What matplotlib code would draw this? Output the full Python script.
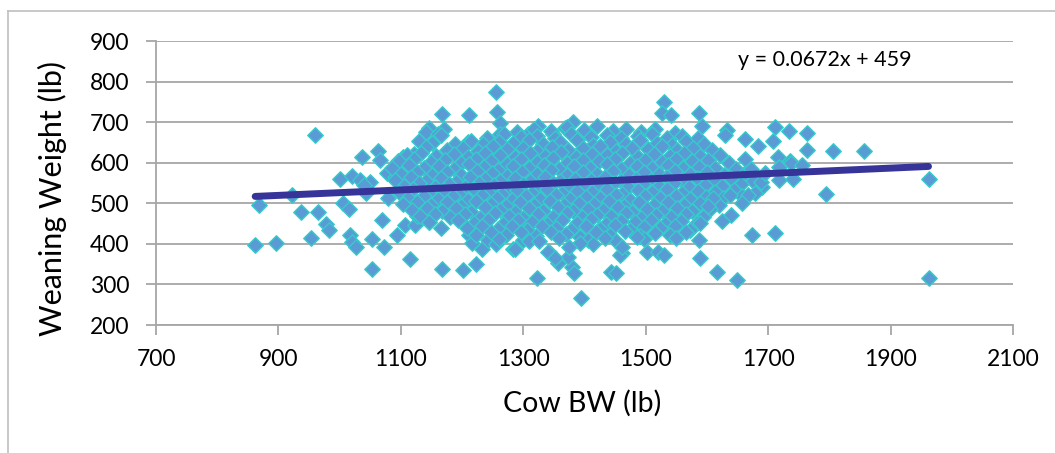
import numpy as np
import matplotlib
matplotlib.use("Agg")
import matplotlib.pyplot as plt
from matplotlib.lines import Line2D

plt.rcParams['font.family'] = ['Lato', 'DejaVu Sans']

# trendline as printed on the chart
slope = 0.0672
intercept = 459

# sparse points on the left
left_tail = [(862, 396), (868, 495), (896, 402), (922, 521), (937, 478), (960, 669), (954, 415),
             (965, 479), (978, 450), (983, 434), (1001, 561), (1006, 500), (1016, 485), (1021, 568),
             (1036, 613), (1017, 422), (1020, 405), (1027, 393), (1033, 557), (1043, 525), (1050, 553),
             (1053, 337), (1053, 412), (1062, 630), (1066, 607), (1069, 459), (1073, 393), (1078, 575),
             (1079, 512), (1093, 422), (1090, 565), (1039, 544)]

# points on the upper / lower left edge of the cloud
left_edge = [(1115, 363), (1167, 338), (1201, 336), (1223, 350), (1167, 719), (1212, 717), (1255, 775),
             (1257, 724), (1262, 697), (1146, 686), (1141, 676), (1171, 683), (1161, 670), (1129, 654),
             (1151, 649), (1121, 621), (1104, 615), (1096, 603), (1188, 641), (1210, 652), (1243, 654),
             (1107, 446), (1123, 446), (1126, 469), (1146, 455), (1166, 440), (1211, 422), (1217, 401),
             (1232, 387), (1243, 410), (1256, 399), (1284, 387), (1300, 410), (1324, 691), (1382, 701),
             (1368, 685), (1262, 672), (1295, 660), (1308, 672), (1349, 672)]

# dense middle of the cloud
core_top = [(1290, 676), (1318, 684), (1345, 679), (1371, 687), (1399, 681), (1420, 690), (1446, 678),
            (1468, 684), (1493, 676), (1515, 682), (1548, 673),
            (1165, 668), (1240, 661), (1268, 670), (1296, 663), (1322, 667), (1352, 660), (1378, 671),
            (1410, 664), (1436, 669), (1459, 661), (1487, 666), (1511, 672), (1534, 660), (1560, 666),
            (1585, 662),
            (1188, 647), (1214, 653), (1235, 645), (1261, 652), (1284, 648), (1309, 655), (1333, 646),
            (1360, 651), (1388, 657), (1414, 644), (1441, 652), (1467, 647), (1490, 655), (1518, 649),
            (1543, 644), (1566, 653), (1596, 646),
            (1141, 638), (1176, 631), (1201, 637), (1226, 630), (1250, 640), (1274, 633), (1300, 637),
            (1323, 629), (1347, 639), (1373, 632), (1398, 636), (1425, 641), (1452, 630), (1477, 637),
            (1503, 633), (1527, 640), (1551, 631), (1577, 636), (1608, 632)]

core_upper = [(1110, 618), (1133, 624), (1158, 616), (1187, 622), (1210, 615), (1238, 625), (1262, 619),
              (1287, 613), (1311, 623), (1336, 617), (1362, 626), (1386, 614), (1412, 621), (1437, 618),
              (1462, 624), (1488, 615), (1514, 622), (1539, 617), (1563, 625), (1589, 616), (1621, 620),
              (1097, 603), (1122, 609), (1149, 601), (1172, 607), (1199, 600), (1222, 610), (1247, 604),
              (1273, 598), (1297, 608), (1322, 602), (1348, 611), (1371, 599), (1398, 606), (1424, 603),
              (1450, 610), (1474, 600), (1499, 606), (1526, 601), (1550, 609), (1575, 603), (1602, 607),
              (1636, 600),
              (1085, 588), (1113, 594), (1138, 586), (1163, 592), (1186, 585), (1212, 596), (1236, 589),
              (1259, 583), (1284, 593), (1310, 587), (1334, 595), (1359, 584), (1383, 591), (1409, 588),
              (1436, 596), (1460, 585), (1486, 592), (1510, 587), (1537, 594), (1561, 586), (1587, 590),
              (1614, 588), (1648, 584),
              (1100, 572), (1126, 578), (1151, 570), (1176, 577), (1199, 569), (1225, 580), (1249, 574),
              (1273, 568), (1298, 578), (1322, 571), (1346, 581), (1372, 569), (1397, 576), (1421, 573),
              (1447, 580), (1472, 570), (1497, 577), (1522, 572), (1548, 579), (1573, 571), (1600, 576),
              (1628, 570), (1662, 575)]

core_mid = [(1091, 558), (1116, 564), (1141, 556), (1166, 562), (1190, 553), (1213, 565), (1238, 559),
            (1262, 554), (1287, 563), (1311, 556), (1336, 566), (1360, 555), (1385, 561), (1410, 557),
            (1434, 565), (1459, 554), (1484, 561), (1509, 558), (1535, 564), (1559, 555), (1584, 562),
            (1611, 557), (1640, 563), (1675, 556),
            (1105, 543), (1130, 549), (1155, 541), (1179, 548), (1204, 539), (1228, 550), (1252, 544),
            (1277, 538), (1300, 548), (1325, 541), (1349, 551), (1374, 540), (1398, 546), (1423, 543),
            (1448, 550), (1471, 539), (1496, 547), (1522, 542), (1546, 549), (1571, 540), (1597, 546),
            (1624, 542), (1655, 548), (1690, 541),
            (1097, 527), (1120, 534), (1146, 526), (1170, 533), (1195, 524), (1219, 535), (1243, 529),
            (1266, 523), (1290, 533), (1315, 526), (1339, 536), (1363, 525), (1388, 531), (1413, 528),
            (1437, 535), (1462, 524), (1487, 532), (1511, 527), (1535, 534), (1560, 525), (1586, 531),
            (1613, 527), (1644, 533), (1678, 526),
            (1112, 513), (1137, 519), (1160, 511), (1185, 518), (1209, 509), (1233, 520), (1257, 514),
            (1281, 508), (1305, 518), (1328, 511), (1353, 521), (1377, 510), (1402, 516), (1426, 513),
            (1451, 520), (1475, 509), (1499, 517), (1524, 512), (1549, 519), (1573, 510), (1598, 516),
            (1626, 512), (1657, 517)]

core_lower = [(1103, 498), (1127, 504), (1150, 496), (1176, 503), (1199, 494), (1222, 505), (1247, 499),
              (1271, 493), (1294, 503), (1318, 496), (1343, 506), (1366, 495), (1391, 501), (1416, 498),
              (1440, 505), (1464, 494), (1489, 502), (1513, 497), (1537, 504), (1562, 495), (1588, 501),
              (1620, 497),
              (1118, 483), (1143, 489), (1168, 481), (1190, 488), (1214, 479), (1238, 490), (1262, 484),
              (1286, 478), (1309, 488), (1333, 481), (1357, 491), (1382, 480), (1405, 486), (1430, 483),
              (1454, 490), (1478, 479), (1502, 487), (1527, 482), (1551, 489), (1576, 480), (1605, 486),
              (1131, 468), (1156, 474), (1181, 466), (1205, 473), (1229, 464), (1253, 475), (1276, 469),
              (1300, 463), (1324, 473), (1348, 466), (1372, 476), (1396, 465), (1420, 471), (1444, 468),
              (1468, 475), (1493, 464), (1517, 472), (1541, 467), (1566, 474), (1593, 465), (1640, 470),
              (1146, 453), (1194, 459), (1219, 451), (1243, 458), (1267, 449), (1291, 460), (1315, 454),
              (1339, 448), (1363, 458), (1387, 451), (1411, 461), (1435, 450), (1459, 456), (1483, 453),
              (1508, 460), (1532, 449), (1557, 457), (1583, 452),
              (1208, 438), (1233, 444), (1258, 436), (1282, 443), (1306, 434), (1330, 445), (1354, 439),
              (1378, 433), (1402, 443), (1426, 436), (1450, 446), (1474, 435), (1498, 441), (1523, 438),
              (1548, 445), (1572, 434),
              (1222, 423), (1247, 429), (1272, 421), (1296, 428), (1320, 419), (1345, 430), (1369, 424),
              (1393, 418), (1418, 428), (1442, 421), (1466, 431), (1491, 420), (1515, 426), (1540, 423),
              (1566, 429),
              (1260, 412), (1310, 406), (1358, 414), (1405, 409), (1452, 407), (1497, 413)]

# points on the right and the low outliers
right_tail = [(1530, 749), (1526, 722), (1542, 718), (1587, 723), (1592, 690), (1632, 681), (1630, 668),
              (1662, 658), (1711, 689), (1734, 677), (1708, 654), (1662, 608), (1716, 615), (1736, 603),
              (1717, 557), (1741, 561), (1667, 520), (1657, 501), (1638, 520), (1610, 512), (1602, 493),
              (1624, 457), (1674, 422), (1711, 426), (1589, 366), (1616, 330), (1649, 311), (1394, 266),
              (1323, 315), (1443, 330), (1451, 327), (1379, 344), (1383, 327), (1357, 352), (1342, 381),
              (1373, 368), (1286, 387), (1461, 377), (1502, 381), (1520, 381), (1530, 373), (1587, 410),
              (1589, 451), (1763, 674), (1763, 631), (1806, 629), (1857, 629), (1737, 600), (1756, 594),
              (1717, 590), (1689, 553), (1794, 522), (1962, 560), (1962, 317), (1458, 373), (1461, 393),
              (1550, 414), (1485, 418), (1433, 414), (1414, 399), (1393, 401), (1326, 407), (1341, 381),
              (1352, 364), (1374, 393), (1672, 585), (1695, 575), (1684, 640)]

x_ticks = [700, 900, 1100, 1300, 1500, 1700, 1900, 2100]
y_ticks = [200, 300, 400, 500, 600, 700, 800, 900]

pts = np.array(left_tail + left_edge + core_top + core_upper + core_mid + core_lower + right_tail)
cow_bw = pts[:, 0]
weaning = pts[:, 1]

W, H = 1055, 453
fig = plt.figure(figsize=(W / 100, H / 100), dpi=100)
ax = fig.add_axes([156 / W, 1 - 325 / H, 857 / W, 284 / H])

grid_c = '#A6A6A6'
ax.scatter(cow_bw, weaning, marker='D', s=62, facecolor='#5B9BD5', edgecolor='#33CCCC',
           linewidths=1.0, zorder=3)

xl = np.array([cow_bw.min(), cow_bw.max()])
ax.plot(xl, slope * xl + intercept, color='#363399', lw=5, solid_capstyle='round', zorder=4)

ax.text(1651, 853, 'y = 0.0672x + 459', fontsize=15.5, ha='left', va='center')

ax.set_xlim(700, 2100)
ax.set_ylim(200, 900)
ax.set_xticks(x_ticks)
ax.set_yticks(y_ticks)
ax.grid(axis='y', color=grid_c, lw=1.3, zorder=0)
ax.set_axisbelow(True)
for s in ['top', 'right']:
    ax.spines[s].set_visible(False)
for s in ['left', 'bottom']:
    ax.spines[s].set_color(grid_c)
    ax.spines[s].set_linewidth(1.3)
ax.tick_params(axis='both', direction='out', length=7, width=1.3, color=grid_c, labelsize=16.5)
ax.tick_params(axis='x', pad=10)
ax.tick_params(axis='y', pad=12)

# axis titles placed where the reference has them
fig.text(582 / W, 1 - 403 / H, 'Cow BW (lb)', fontsize=20.5, ha='center', va='center')
fig.text(52 / W, 1 - 198 / H, 'Weaning Weight (lb)', fontsize=22, rotation=90,
         ha='center', va='center')

# outer chart frame (left and top edges)
fig.add_artist(Line2D([8 / W, 8 / W], [0, 1 - 11 / H], color='#BFBFBF', lw=1.2))
fig.add_artist(Line2D([8 / W, 1], [1 - 11 / H, 1 - 11 / H], color='#BFBFBF', lw=1.2))

plt.savefig("out.png", dpi=100)
